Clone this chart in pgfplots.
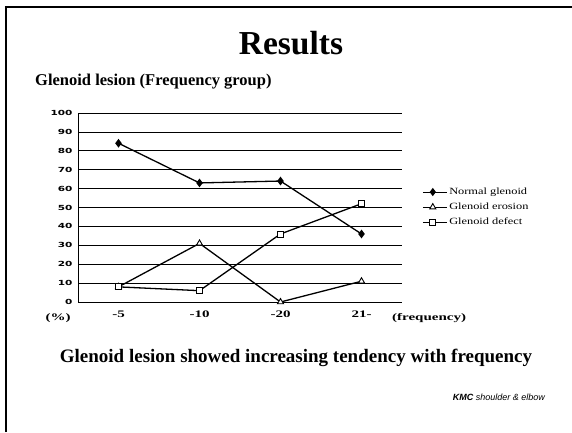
\documentclass[border=0pt]{standalone}
\usepackage{fontspec}
\setmainfont{Liberation Serif}
\newfontfamily\dvs{DejaVu Sans}
\newfontfamily\lsans{Liberation Sans}
\usepackage{graphicx}
\usepackage{pgfplots}
\pgfplotsset{compat=1.18}
\newcommand{\wx}[1]{\scalebox{1.5}[1]{#1}}
\newcommand{\wl}[1]{\scalebox{1.3}[1]{#1}}
\begin{document}
\begin{tikzpicture}[x=1pt,y=1pt]
\useasboundingbox (0,0) rectangle (572,432);
\fill[white] (0,0) rectangle (572,432);
\draw[line width=2.5pt] (6,0) -- (6,425);
\draw[line width=1.6pt] (4.75,425) -- (572,425);
\node[anchor=base] at (291,377) {\fontsize{33.5}{38}\selectfont\bfseries Results};
\node[anchor=base west,inner sep=0pt] at (35,346) {\fontsize{16.5}{20}\selectfont\bfseries Glenoid lesion (Frequency group)};
\node[anchor=base,inner sep=0pt] at (296,70) {\fontsize{19}{22}\selectfont\bfseries Glenoid lesion showed increasing tendency with frequency};
\node[anchor=base east,inner sep=0pt] at (545,32) {\lsans\fontsize{9}{11}\selectfont\itshape\textbf{KMC} shoulder \& elbow};
\node[anchor=base,inner sep=0pt] at (58,112) {\fontsize{10}{12}\selectfont\bfseries\wx{(\%)}};
\node[anchor=base west,inner sep=0pt] at (392,112) {\fontsize{10}{12}\selectfont\bfseries\wx{(frequency)}};
\begin{axis}[
  at={(78pt,130pt)}, anchor=south west,
  scale only axis, width=324pt, height=189pt,
  xmin=-0.5, xmax=3.5, ymin=0, ymax=100,
  xtick={0,1,2,3}, xticklabels={\wx{-5},\wx{-10},\wx{-20},\wx{21-}},
  ytick={0,10,...,100},
  axis x line=bottom, axis y line=left,
  axis line style={-, line width=1pt},
  major tick length=0pt,
  ymajorgrids, grid style={black, line width=0.8pt},
  yticklabel style={font=\dvs\bfseries\fontsize{7}{8}\selectfont, xshift=-2pt},
  yticklabel={\scalebox{1.5}[1]{\pgfmathprintnumber[assume math mode=true]{\tick}}},
  xticklabel style={font=\fontsize{10}{12}\selectfont\bfseries, yshift=-5pt},
  legend style={at={(1.062,0.615)}, anchor=north west, draw=none, fill=none,
    font=\fontsize{9.5}{10}\selectfont, row sep=3pt, inner sep=0pt},
  legend cell align=left,
  legend image code/.code={\draw[#1, line width=1pt, mark repeat=2, mark phase=2] plot coordinates {(0pt,0pt) (10pt,0pt) (24pt,0pt)};},
]
\addplot[black, line width=1.3pt, mark=diamond*, mark size=3.3pt, mark options={solid, fill=black}]
  coordinates {(0,84) (1,63) (2,64) (3,36)};
\addlegendentry{\wl{Normal glenoid}}
\addplot[black, line width=1.3pt, mark=triangle*, mark size=3.5pt, mark options={solid, fill=white, line width=0.9pt}]
  coordinates {(0,8) (1,31) (2,0) (3,11)};
\addlegendentry{\wl{Glenoid erosion}}
\addplot[black, line width=1.3pt, mark=square*, mark size=3pt, mark options={solid, fill=white, line width=0.9pt}]
  coordinates {(0,8) (1,6) (2,36) (3,52)};
\addlegendentry{\wl{Glenoid defect}}
\end{axis}
\end{tikzpicture}
\end{document}
